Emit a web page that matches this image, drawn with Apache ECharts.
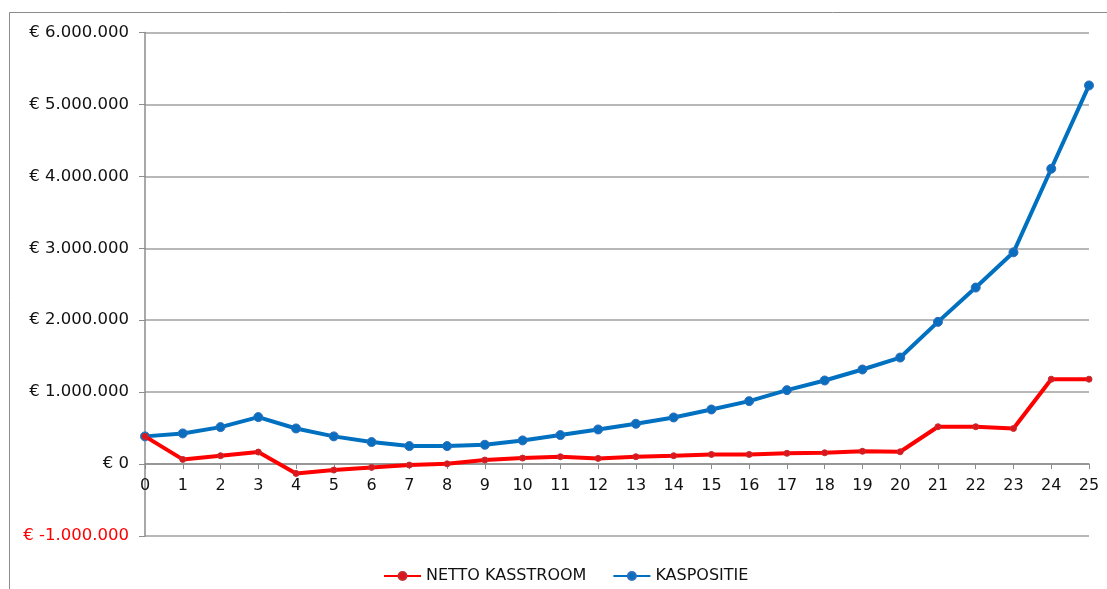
<!DOCTYPE html>
<html>
<head>
<meta charset="utf-8">
<script src="https://cdn.jsdelivr.net/npm/echarts@6/dist/echarts.min.js"></script>
<style>
  html, body { margin: 0; padding: 0; background: #fff; }
  #chart { width: 1107px; height: 589px; }
</style>
</head>
<body>
<div id="chart"></div>
<script>
// Jaren 0 t/m 25
const years = [0,1,2,3,4,5,6,7,8,9,10,11,12,13,14,15,16,17,18,19,20,21,22,23,24,25];

// Netto kasstroom per jaar (EUR)
const nettoKasstroom = [385000, 65000, 116000, 167000, -130000, -83000, -46000, -14000, 3000, 56000,
  83000, 102000, 79000, 102000, 116000, 134000, 134000, 150000, 157000, 178000,
  171000, 519000, 519000, 495000, 1180000, 1180000];

// Cumulatieve kaspositie (EUR)
const kaspositie = [385000, 426000, 514000, 653000, 495000, 385000, 306000, 250000, 250000, 268000,
  329000, 403000, 481000, 560000, 648000, 759000, 875000, 1028000, 1162000, 1315000,
  1481000, 1977000, 2454000, 2944000, 4106000, 5264000];

// Waardeas
const yMin = -1000000, yMax = 6000000, yStep = 1000000;

const FONT = 'DejaVu Sans, Verdana, sans-serif';

const GRID_TOP = 32.5, GRID_BOTTOM = 53, HEIGHT = 589;
// The year axis sits on the zero line: shift it up from the bottom by the span below zero
const plotH = HEIGHT - GRID_TOP - GRID_BOTTOM;
const zeroOffset = -plotH * (0 - yMin) / (yMax - yMin);

function euro(v) {
  const s = Math.abs(v).toString().replace(/\B(?=(\d{3})+(?!\d))/g, '.');
  return '€ ' + (v < 0 ? '-' : '') + s;
}

const chart = echarts.init(document.getElementById('chart'), null, { renderer: 'canvas' });

chart.setOption({
  animation: false,
  backgroundColor: '#ffffff',
  textStyle: { fontFamily: FONT },
  graphic: [
    { type: 'line', shape: { x1: 9.5, y1: 12.5, x2: 1107, y2: 12.5 }, style: { stroke: '#8c8c8c', lineWidth: 1 } },
    { type: 'line', shape: { x1: 9.5, y1: 12.5, x2: 9.5, y2: 589 }, style: { stroke: '#8c8c8c', lineWidth: 1 } }
  ],
  grid: { left: 145, right: 18, top: GRID_TOP, bottom: GRID_BOTTOM, containLabel: false },
  legend: {
    left: 378,
    top: 563,
    itemWidth: 37,
    itemHeight: 10,
    itemGap: 26,
    textStyle: { fontFamily: FONT, fontSize: 16, color: '#111' },
    data: ['NETTO KASSTROOM', 'KASPOSITIE']
  },
  xAxis: {
    type: 'value',
    position: 'bottom',
    offset: zeroOffset,
    min: 0,
    max: 25,
    interval: 1,
    axisLine: { onZero: false, lineStyle: { color: '#8c8c8c', width: 1.5 } },
    axisTick: { show: true, length: 5, lineStyle: { color: '#8c8c8c' } },
    axisLabel: { fontFamily: FONT, fontSize: 16, color: '#111', margin: 14 },
    splitLine: { show: false }
  },
  yAxis: {
    type: 'value',
    min: yMin,
    max: yMax,
    interval: yStep,
    axisLine: { show: true, onZero: false, lineStyle: { color: '#8c8c8c', width: 1.5 } },
    axisTick: { show: true, length: 6, lineStyle: { color: '#8c8c8c' } },
    axisLabel: {
      fontFamily: FONT,
      fontSize: 16.5,
      margin: 16,
      formatter: euro,
      color: function (v) { return v < 0 ? '#ff0000' : '#111'; }
    },
    splitLine: { show: true, lineStyle: { color: '#a0a0a0', width: 1.5 } }
  },
  series: [
    {
      name: 'NETTO KASSTROOM',
      type: 'line',
      data: years.map((x, i) => [x, nettoKasstroom[i]]),
      symbol: 'circle',
      symbolSize: 6,
      lineStyle: { color: '#ff0000', width: 4 },
      itemStyle: { color: '#e0141c', borderColor: '#c0302f', borderWidth: 1 },
      color: '#ff0000',
      z: 3
    },
    {
      name: 'KASPOSITIE',
      type: 'line',
      data: years.map((x, i) => [x, kaspositie[i]]),
      symbol: 'circle',
      symbolSize: 9,
      lineStyle: { color: '#0070c0', width: 4 },
      itemStyle: { color: '#0a6ec0', borderColor: '#2f6eb8', borderWidth: 1 },
      color: '#0070c0',
      z: 2
    }
  ]
});
</script>
</body>
</html>
